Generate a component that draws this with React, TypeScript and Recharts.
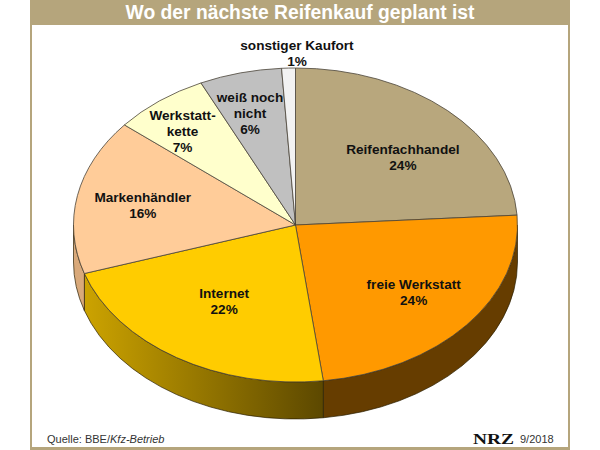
import React from 'react';
import { PieChart, Pie } from 'recharts';

const TITLE = 'Wo der nächste Reifenkauf geplant ist';
const SOURCE_PLAIN = 'Quelle: BBE/';
const SOURCE_ITALIC = 'Kfz-Betrieb';
const DATE_TEXT = '9/2018';
const LOGO_TEXT = 'NRZ';

const sliceNames = ['Reifenfachhandel', 'freie Werkstatt', 'Internet', 'Markenhändler', 'Werkstattkette', 'weiß noch nicht', 'sonstiger Kaufort'];
const sliceValues = [24, 24, 22, 16, 7, 6, 1];
const sliceLabelLines = [['Reifenfachhandel'], ['freie Werkstatt'], ['Internet'], ['Markenhändler'], ['Werkstatt-', 'kette'], ['weiß noch', 'nicht'], ['sonstiger Kaufort']];

const topColors = ['#B8A77D', '#FF9900', '#FFCC00', '#FFCC99', '#FFFFCC', '#C0C0C0', '#F2F2F2'];
const wallColors = ['#7A6C47', '#663D00', 'url(#internetWall)', '#D9A97A', '#A8A885', '#808080', '#A0A0A0'];
const labelOffsets = [[8.6, 6.4], [7, 2], [6, -10.6], [-11, -1], [-24.5, -13.7], [-9.6, -13], [6, -70.5]];

const W = 600;
const H = 450;
const CX = 295.5;
const CY = 225;
const R = 222;
const TILT = 157 / 222;
const DEPTH = 37;
const RAD = Math.PI / 180;
const FRAME = '#B5A57C';

const tableData = sliceNames.map((name, i) => ({ name, value: sliceValues[i], index: i }));

const pt = (cx: number, cy: number, rx: number, ry: number, a: number) => [
  cx + rx * Math.cos(a * RAD),
  cy - ry * Math.sin(a * RAD),
];

function Slice3D(props: any) {
  const { cx, cy, outerRadius, startAngle, endAngle, index } = props;
  const rx = outerRadius;
  const ry = outerRadius * TILT;
  const hi = Math.max(startAngle, endAngle);
  const lo = Math.min(startAngle, endAngle);
  const [x1, y1] = pt(cx, cy, rx, ry, hi);
  const [x2, y2] = pt(cx, cy, rx, ry, lo);
  const large = hi - lo > 180 ? 1 : 0;
  const top = `M${cx},${cy}L${x1},${y1}A${rx},${ry} 0 ${large} 1 ${x2},${y2}Z`;

  // the visible wall is the part of the arc in the lower half of the ellipse
  const wHi = Math.min(hi, 0);
  const wLo = Math.max(lo, -180);
  let wall: string | null = null;
  if (wHi > wLo) {
    const [a1, b1] = pt(cx, cy, rx, ry, wHi);
    const [a2, b2] = pt(cx, cy, rx, ry, wLo);
    wall = `M${a1},${b1}A${rx},${ry} 0 0 1 ${a2},${b2}L${a2},${b2 + DEPTH}A${rx},${ry} 0 0 0 ${a1},${b1 + DEPTH}Z`;
  }
  const i = index ?? props.payload?.index ?? 0;
  return (
    <g>
      {wall && <path d={wall} fill={wallColors[i]} stroke="#2A1E00" strokeWidth={0.7} />}
      <path d={top} fill={topColors[i]} stroke="#4A4438" strokeWidth={0.8} />
    </g>
  );
}

function SliceLabel(props: any) {
  const { midAngle, index } = props;
  const [ax, ay] = pt(CX, CY, R * 0.65, R * TILT * 0.65, midAngle);
  const [ox, oy] = labelOffsets[index];
  const x = ax + ox;
  const lines = [...sliceLabelLines[index], `${sliceValues[index]}%`];
  const lh = 16;
  const y0 = ay + oy - ((lines.length - 1) * lh) / 2 + 5;
  return (
    <text
      textAnchor="middle"
      fontFamily="Liberation Sans, Arial, sans-serif"
      fontSize={13.6}
      fontWeight={700}
      fill="#111"
      stroke="none"
    >
      {lines.map((l, k) => (
        <tspan key={k} x={x} y={y0 + k * lh}>{l}</tspan>
      ))}
    </text>
  );
}

export default function App() {
  return (
    <div style={{ position: 'absolute', left: 0, top: 0, width: W, height: H, background: '#fff', overflow: 'hidden' }}>
      <div style={{ position: 'absolute', left: 30, top: 0, width: 540, height: 450, background: FRAME }} />
      <div style={{ position: 'absolute', left: 32, top: 25, width: 536, height: 422, background: '#fff' }} />
      <div style={{ position: 'absolute', left: 0, top: 0 }}>
        <PieChart width={W} height={H} margin={{ top: 0, right: 0, bottom: 0, left: 0 }}>
          <defs>
            <linearGradient id="internetWall" x1="0" y1="0" x2="1" y2="0">
              <stop offset="0" stopColor="#CCA300" />
              <stop offset="1" stopColor="#5C4800" />
            </linearGradient>
          </defs>
          <Pie
            data={tableData}
            dataKey="value"
            nameKey="name"
            cx={CX}
            cy={CY}
            outerRadius={R}
            innerRadius={0}
            startAngle={90}
            endAngle={-270}
            paddingAngle={0}
            stroke="none"
            isAnimationActive={false}
            shape={Slice3D}
            label={SliceLabel}
            labelLine={false}
          />
          <text x={300} y={19} textAnchor="middle" fontFamily="Liberation Sans, Arial, sans-serif" fontSize={19.3} fontWeight={700} fill="#fff">{TITLE}</text>
          <text x={47} y={443} fontFamily="Liberation Sans, Arial, sans-serif" fontSize={11} fill="#333">
            {SOURCE_PLAIN}<tspan fontStyle="italic">{SOURCE_ITALIC}</tspan>
          </text>
          <text x={473} y={444} fontFamily="Liberation Serif, serif" fontSize={14} fontWeight={700} fill="#111" textLength={41} lengthAdjust="spacingAndGlyphs">{LOGO_TEXT}</text>
          <text x={520} y={443} fontFamily="Liberation Sans, Arial, sans-serif" fontSize={11} fill="#333">{DATE_TEXT}</text>
        </PieChart>
      </div>
    </div>
  );
}
